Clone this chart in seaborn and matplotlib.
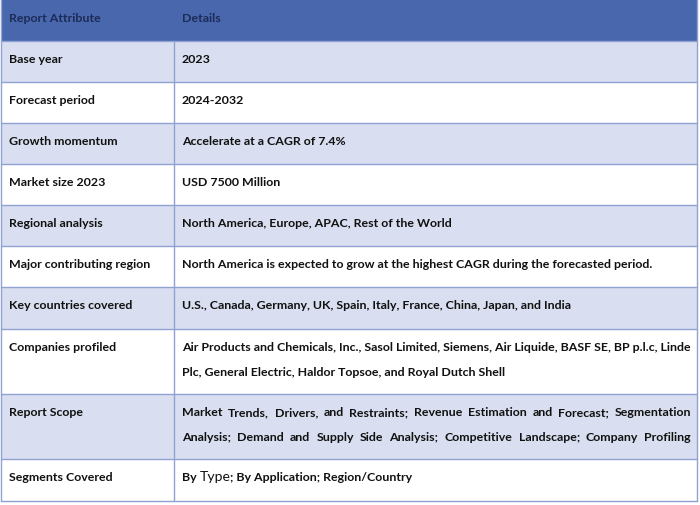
import matplotlib
matplotlib.use("Agg")
import matplotlib.pyplot as plt
import seaborn as sns
from matplotlib.patches import Rectangle

sns.set_theme(style="white")
plt.rcParams['font.family'] = ['Lato', 'DejaVu Sans']

# ---- table content ----
header = ["Report Attribute", "Details"]
attributes = [
    "Base year",
    "Forecast period",
    "Growth momentum",
    "Market size 2023",
    "Regional analysis",
    "Major contributing region",
    "Key countries covered",
    "Companies profiled",
    "Report Scope",
    "Segments Covered",
]
details = [
    ["2023"],
    ["2024-2032"],
    ["Accelerate at a CAGR of 7.4%"],
    ["USD 7500 Million"],
    ["North America, Europe, APAC, Rest of the World"],
    ["North America is expected to grow at the highest CAGR during the forecasted period."],
    ["U.S., Canada, Germany, UK, Spain, Italy, France, China, Japan, and India"],
    ["Air Products and Chemicals, Inc., Sasol Limited, Siemens, Air Liquide, BASF SE, BP p.l.c, Linde",
     "Plc, General Electric, Haldor Topsoe, and Royal Dutch Shell"],
    ["Market Trends, Drivers, and Restraints; Revenue Estimation and Forecast; Segmentation",
     "Analysis; Demand and Supply Side Analysis; Competitive Landscape; Company Profiling"],
    ["By Type; By Application; Region/Country"],
]
justified = [False, False, False, False, False, False, False, False, True, False]

# ---- layout (pixels) ----
W, H = 700, 506
row_edges = [1, 42, 83, 124, 165, 206, 247, 288, 330, 395, 460, 502]
col_edges = [1, 174, 697]
text_pad = 8
baseline_offset = 21
line_gap = 25
fs = 8.9

header_color = "#4867AD"
header_text = "#1C2B57"
band_color = "#D9DFF0"
line_color = "#8FA2D2"
text_color = "#111111"

fig = plt.figure(figsize=(W / 100, H / 100), dpi=100)
ax = fig.add_axes([0, 0, 1, 1])
ax.set_xlim(0, W)
ax.set_ylim(H, 0)
ax.axis("off")

# backgrounds
ax.add_patch(Rectangle((col_edges[0], row_edges[0]), col_edges[-1] - col_edges[0],
                       row_edges[1] - row_edges[0], facecolor=header_color, edgecolor="none"))
for i in range(len(attributes)):
    top, bot = row_edges[i + 1], row_edges[i + 2]
    fc = band_color if i % 2 == 0 else "white"
    ax.add_patch(Rectangle((col_edges[0], top), col_edges[-1] - col_edges[0], bot - top,
                           facecolor=fc, edgecolor="none"))

# grid lines
for y in row_edges[1:]:
    ax.plot([col_edges[0], col_edges[-1]], [y, y], color=line_color, lw=1.0)
for x in [col_edges[0], col_edges[-1]]:
    ax.plot([x, x], [row_edges[0], row_edges[-1]], color=line_color, lw=1.0)
ax.plot([col_edges[1], col_edges[1]], [row_edges[1], row_edges[-1]], color=line_color, lw=1.0)

# header text
for j, h in enumerate(header):
    ax.text(col_edges[j] + text_pad, row_edges[0] + baseline_offset, h, fontsize=fs,
            fontweight="bold", color=header_text, va="baseline", ha="left")

renderer = fig.canvas.get_renderer()


def width_of(s, size=fs, weight="bold"):
    t = ax.text(0, 0, s, fontsize=size, fontweight=weight)
    w = t.get_window_extent(renderer).width
    t.remove()
    return w


for i, (attr, lines) in enumerate(zip(attributes, details)):
    top = row_edges[i + 1]
    y0 = top + baseline_offset
    ax.text(col_edges[0] + text_pad, y0, attr, fontsize=fs, fontweight="bold",
            color=text_color, va="baseline", ha="left")
    x0 = col_edges[1] + text_pad
    right = col_edges[2] - 6
    for k, line in enumerate(lines):
        y = y0 + k * line_gap
        if justified[i]:
            words = line.split(" ")
            ws = [width_of(w) for w in words]
            gap = (right - x0 - sum(ws)) / (len(words) - 1)
            x = x0
            for w, wd in zip(words, ws):
                ax.text(x, y, w, fontsize=fs, fontweight="bold", color=text_color,
                        va="baseline", ha="left")
                x += wd + gap
        elif "Type" in line:
            pre = "By "
            rest_idx = line.index("Type")
            ax.text(x0, y, pre, fontsize=fs, fontweight="bold", color=text_color,
                    va="baseline", ha="left")
            x = x0 + width_of(pre)
            big = fs + 1.2
            ax.text(x, y, "Type", fontsize=big, fontweight="normal", color=text_color,
                    va="baseline", ha="left")
            x += width_of("Type", big, "normal")
            ax.text(x, y, line[rest_idx + 4:], fontsize=fs, fontweight="bold",
                    color=text_color, va="baseline", ha="left")
        else:
            ax.text(x0, y, line, fontsize=fs, fontweight="bold", color=text_color,
                    va="baseline", ha="left")

fig.savefig("out.png", dpi=100, facecolor="white")
